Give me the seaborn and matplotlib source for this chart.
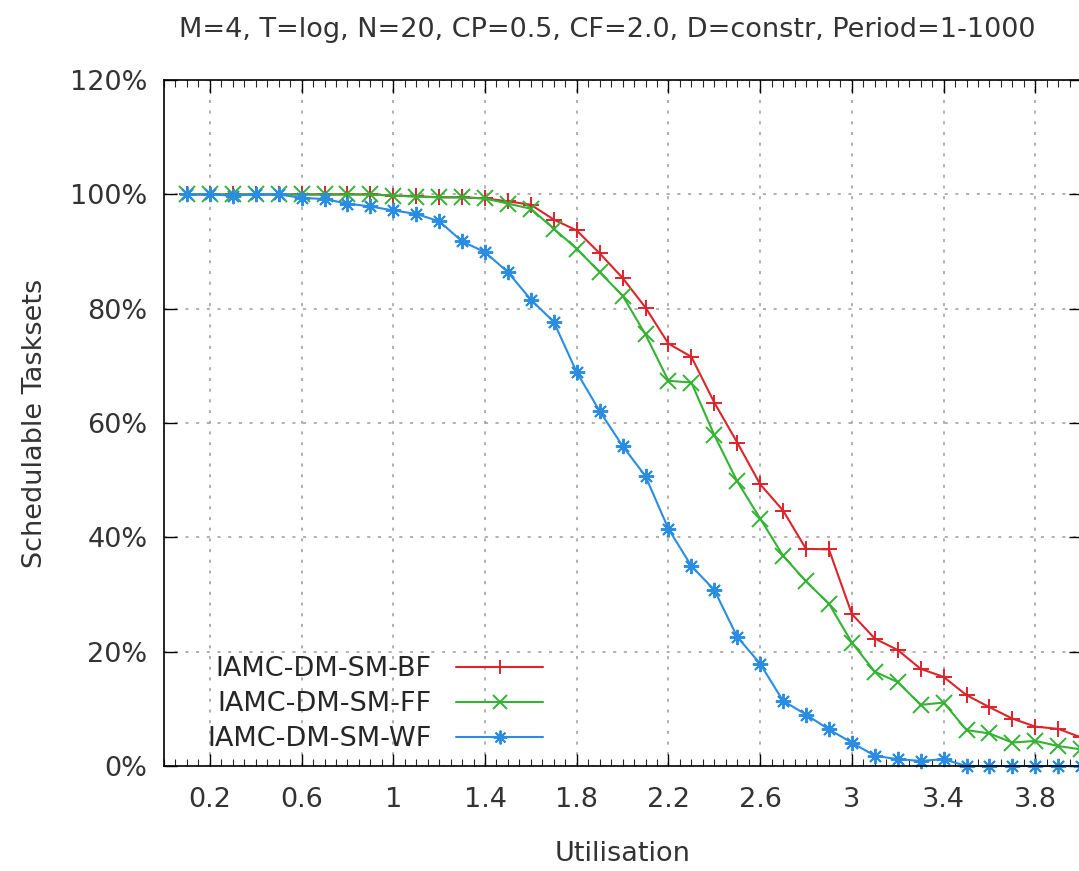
import numpy as np
import pandas as pd
import seaborn as sns
import matplotlib.pyplot as plt
import matplotlib.ticker as ticker

# utilisation steps
util = [0.1, 0.2, 0.3, 0.4, 0.5, 0.6, 0.7, 0.8, 0.9, 1.0,
        1.1, 1.2, 1.3, 1.4, 1.5, 1.6, 1.7, 1.8, 1.9, 2.0,
        2.1, 2.2, 2.3, 2.4, 2.5, 2.6, 2.7, 2.8, 2.9, 3.0,
        3.1, 3.2, 3.3, 3.4, 3.5, 3.6, 3.7, 3.8, 3.9, 4.0]

bf = [100, 100, 100, 100, 100, 100, 100, 100, 100, 99.8,
      99.7, 99.5, 99.5, 99.3, 98.8, 98.2, 95.6, 93.7, 89.7, 85.4,
      80.2, 73.9, 71.6, 63.6, 56.6, 49.3, 44.7, 38.0, 37.9, 26.6,
      22.3, 20.3, 17.0, 15.6, 12.4, 10.3, 8.3, 6.9, 6.5, 5.0]

ff = [100, 100, 100, 100, 100, 100, 100, 100, 100, 99.8,
      99.6, 99.5, 99.5, 99.3, 98.4, 97.5, 94.0, 90.5, 86.4, 82.3,
      75.5, 67.4, 67.1, 57.9, 49.8, 43.3, 36.8, 32.3, 28.4, 21.6,
      16.5, 14.7, 10.7, 11.1, 6.3, 5.7, 4.1, 4.4, 3.5, 2.9]

wf = [100, 100, 99.8, 100, 100, 99.4, 99.2, 98.4, 97.9, 97.2,
      96.6, 95.3, 91.8, 89.9, 86.4, 81.6, 77.7, 68.9, 62.1, 56.0,
      50.7, 41.5, 35.0, 30.8, 22.6, 17.9, 11.4, 9.0, 6.4, 4.1,
      1.8, 1.2, 0.9, 1.2, 0, 0, 0, 0, 0, 0]

names = ["IAMC-DM-SM-BF", "IAMC-DM-SM-FF", "IAMC-DM-SM-WF"]
colors = ["#dc242b", "#33b233", "#2a8de2"]
marks = ["+", "x", (8, 2, 0)]

sns.set_style("white")
plt.rcParams['font.family'] = ['DejaVu Sans']
fs = 19.5
txt = "#333333"

fig = plt.figure(figsize=(10.79, 8.71), dpi=100)
ax = fig.add_axes([0.152, 0.1205, 0.850, 0.7875])

for name, vals, c, m in zip(names, [bf, ff, wf], colors, marks):
    sns.lineplot(x=util, y=vals, color=c, marker=m, markersize=11,
                 markeredgecolor=c, markerfacecolor=c, markeredgewidth=1.4,
                 linewidth=1.5, label=name, ax=ax, clip_on=False)

ax.set_xlim(0, 4.0)
ax.set_ylim(0, 120)
ax.xaxis.set_major_locator(ticker.FixedLocator([0.2, 0.6, 1.0, 1.4, 1.8, 2.2, 2.6, 3.0, 3.4, 3.8]))
ax.xaxis.set_minor_locator(ticker.MultipleLocator(0.05))
ax.xaxis.set_major_formatter(ticker.FormatStrFormatter('%g'))
ax.yaxis.set_major_locator(ticker.MultipleLocator(20))
ax.yaxis.set_major_formatter(ticker.FuncFormatter(lambda v, p: "%d%%" % v))

ax.tick_params(axis="both", which="major", direction="in", length=9, width=1,
               labelsize=fs, colors="black", labelcolor=txt,
               top=True, right=True, bottom=True, left=True, pad=12)
ax.tick_params(axis="x", which="major", pad=15)
ax.tick_params(axis="x", which="minor", direction="in", length=5, width=0.8,
               top=True, bottom=True)
for s in ax.spines.values():
    s.set_color("black")
    s.set_linewidth(1.2)

ax.grid(True, which="major", color="#9a9a9a", linestyle=(0, (2, 5)), linewidth=1.1)

ax.set_xlabel("Utilisation", fontsize=fs, color=txt, labelpad=20)
ax.set_ylabel("Schedulable Tasksets", fontsize=fs, color=txt, labelpad=16)

fig.text(607 / 1079, 1 - 30 / 871, "M=4, T=log, N=20, CP=0.5, CF=2.0, D=constr, Period=1-1000",
         ha="center", va="center", fontsize=fs, color=txt)

handles, labels = ax.get_legend_handles_labels()
ax.legend(handles, labels, loc="lower right", bbox_to_anchor=(0.425, 0.004),
          markerfirst=False, frameon=False, fontsize=fs, handlelength=3.2,
          handletextpad=0.9, labelspacing=0.34, borderaxespad=0.0, markerscale=0.9)

fig.savefig("out.png", dpi=100)
